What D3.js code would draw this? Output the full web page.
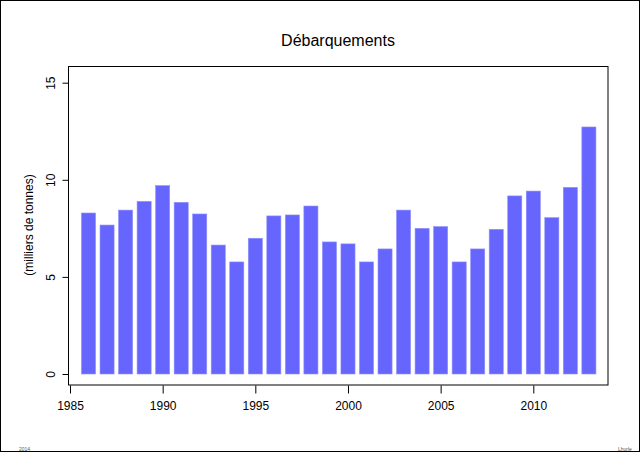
<!DOCTYPE html>
<html><head><meta charset="utf-8">
<script src="https://cdn.jsdelivr.net/npm/d3@7"></script>
<style>body{margin:0;background:#fff}svg{display:block}text{font-family:"Liberation Sans",Arial,sans-serif}</style>
</head><body>
<script>
const years = [1986,1987,1988,1989,1990,1991,1992,1993,1994,1995,1996,1997,1998,1999,2000,2001,2002,2003,2004,2005,2006,2007,2008,2009,2010,2011,2012,2013];
const landings = [8.29,7.67,8.44,8.89,9.70,8.84,8.24,6.64,5.77,6.99,8.14,8.19,8.65,6.80,6.70,5.77,6.44,8.44,7.50,7.59,5.77,6.44,7.45,9.17,9.42,8.05,9.61,12.72];
const xTicks = [1985,1990,1995,2000,2005,2010];
const yTicks = [0,5,10,15];

const W=640,H=452;
const svg=d3.select("body").append("svg").attr("width",W).attr("height",H);
svg.append("rect").attr("x",0.5).attr("y",0.5).attr("width",W-1).attr("height",H-1).attr("fill","#fff").attr("stroke","#000");

const x=d3.scaleLinear().domain([1985,2010]).range([70,533.3]);
const y=d3.scaleLinear().domain([0,15]).range([374,82.7]);
const bw=(x(1)-x(0))*0.76;

// plot box
svg.append("rect").attr("x",68.5).attr("y",66.5).attr("width",608-68.5).attr("height",385-66.5)
  .attr("fill","none").attr("stroke","#000");

svg.append("g").selectAll("rect").data(years).join("rect")
  .attr("x",(d)=>x(d)-bw/2).attr("width",bw)
  .attr("y",(d,i)=>y(landings[i])).attr("height",(d,i)=>y(0)-y(landings[i]))
  .attr("fill","#6666ff").attr("stroke","#8f8fff").attr("stroke-width",0.6);

const xa=svg.append("g").attr("transform","translate(0,385.5)")
  .call(d3.axisBottom(x).tickValues(xTicks).tickFormat(d3.format("d")).tickSize(8).tickPadding(8));
xa.select(".domain").attr("stroke","none");
xa.selectAll("text").attr("font-size",12).attr("fill","#000");

const ya=svg.append("g").attr("transform","translate(68.5,0)")
  .call(d3.axisLeft(y).tickValues(yTicks).tickSize(6).tickPadding(0));
ya.select(".domain").remove();
ya.selectAll(".tick text").attr("font-size",12).attr("fill","#000")
  .attr("transform","translate(-14,0) rotate(-90)").attr("text-anchor","middle").attr("x",0).attr("dy","0");

svg.append("text").attr("x",338).attr("y",46).attr("text-anchor","middle").attr("font-size",16).text("Débarquements");
svg.append("text").attr("transform","translate(33,225) rotate(-90)").attr("text-anchor","middle").attr("font-size",12).text("(milliers de tonnes)");
svg.append("text").attr("x",19).attr("y",451).attr("font-size",5).attr("fill","#555").text("2014");
svg.append("text").attr("x",618).attr("y",451).attr("font-size",5).attr("fill","#555").text("Lhurle");
</script>
</body></html>
